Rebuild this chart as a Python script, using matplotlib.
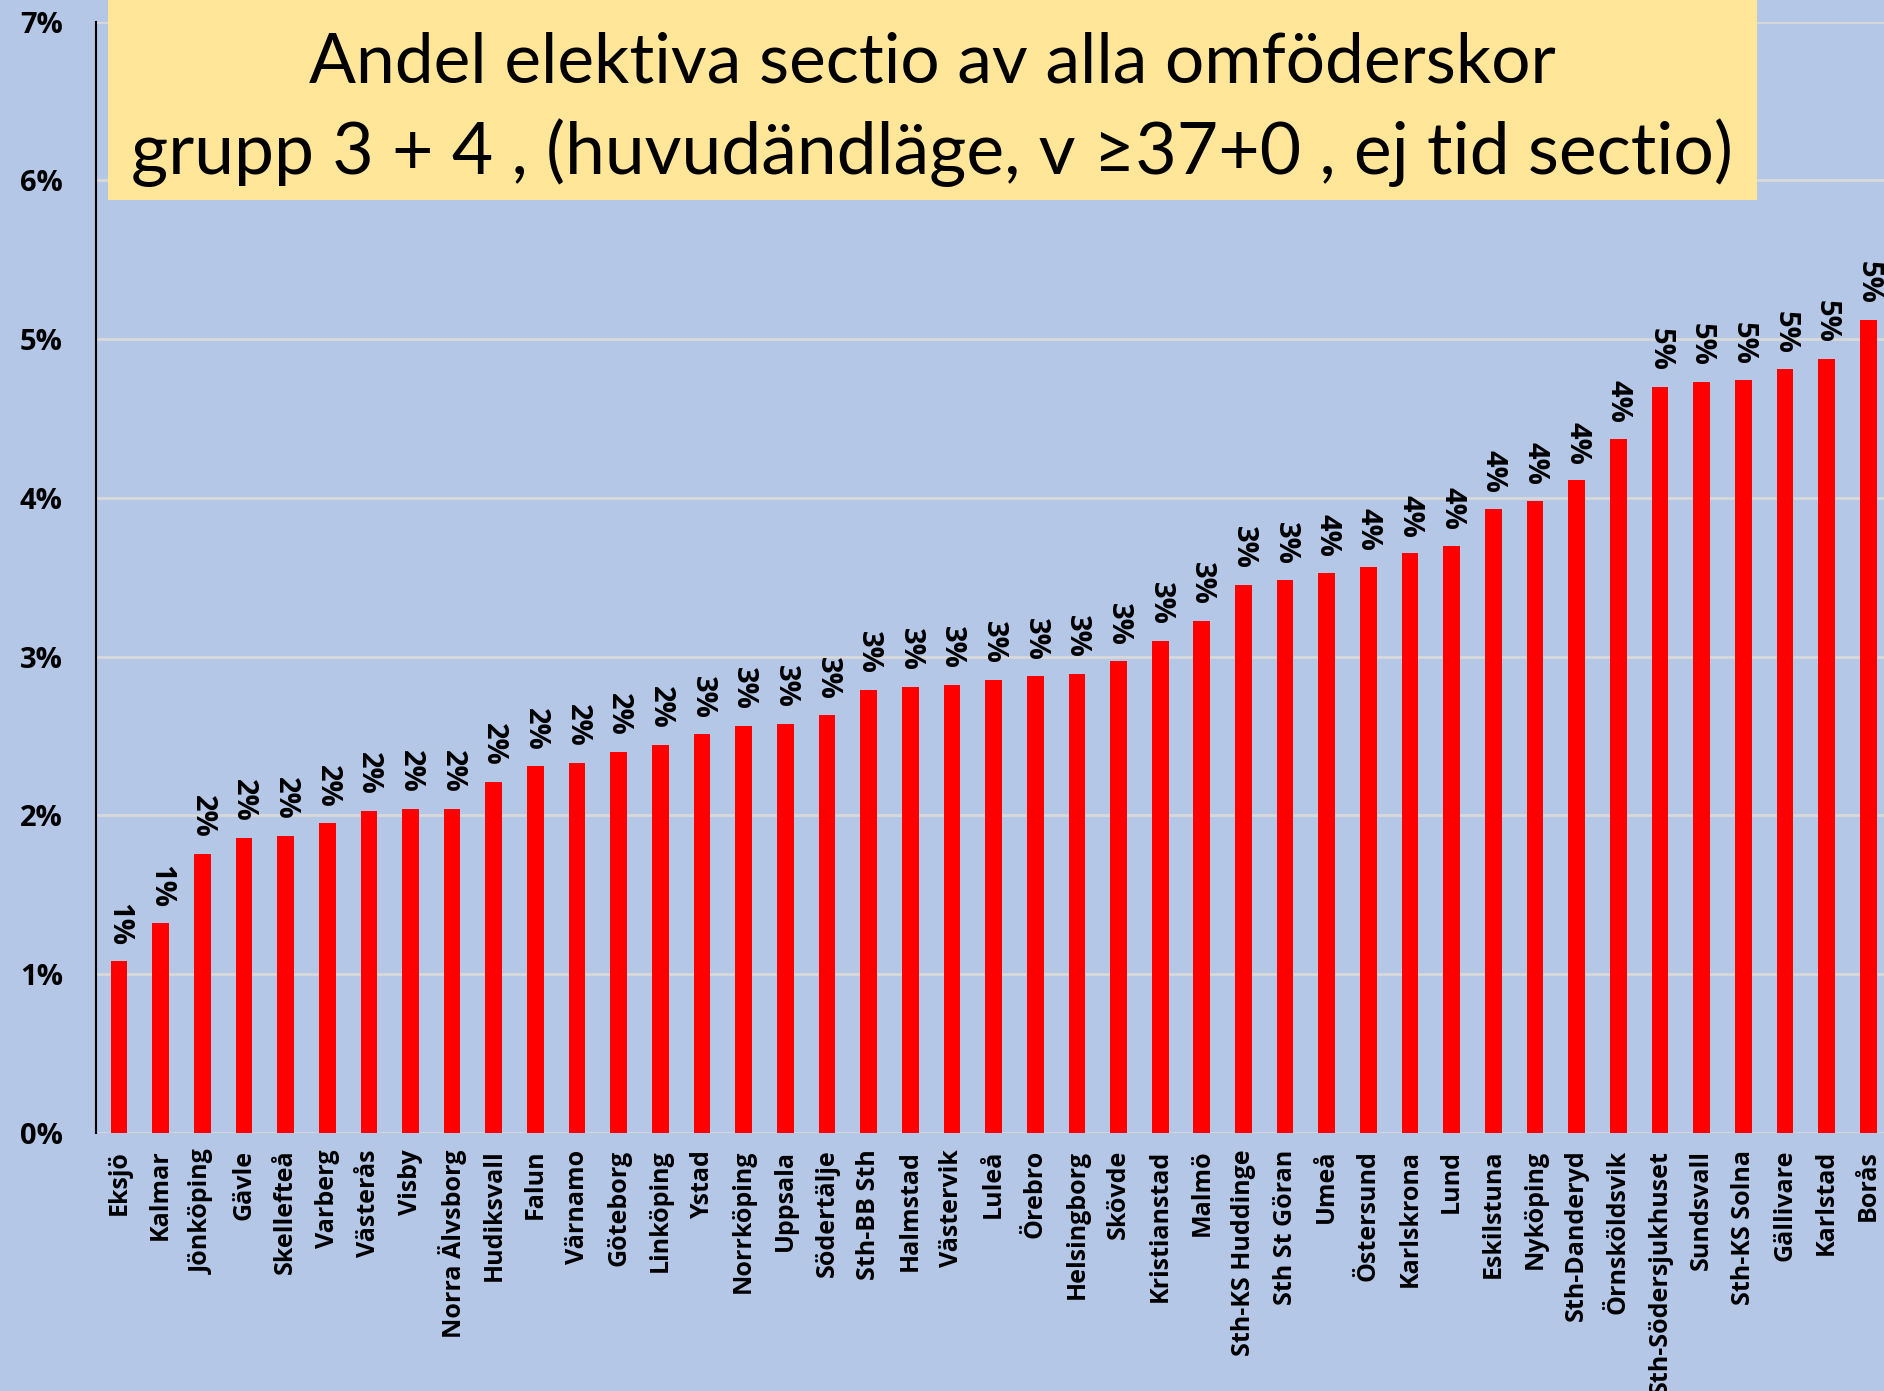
import matplotlib
matplotlib.use("Agg")
import matplotlib.pyplot as plt
from matplotlib.patches import Rectangle
from matplotlib.ticker import PercentFormatter

# sjukhus, sorterade efter andel
hospitals = ["Eksjö", "Kalmar", "Jönköping", "Gävle", "Skellefteå", "Varberg",
             "Västerås", "Visby", "Norra Älvsborg", "Hudiksvall", "Falun",
             "Värnamo", "Göteborg", "Linköping", "Ystad", "Norrköping",
             "Uppsala", "Södertälje", "Sth-BB Sth", "Halmstad", "Västervik",
             "Luleå", "Örebro", "Helsingborg", "Skövde", "Kristianstad",
             "Malmö", "Sth-KS Huddinge", "Sth St Göran", "Umeå", "Östersund",
             "Karlskrona", "Lund", "Eskilstuna", "Nyköping", "Sth-Danderyd",
             "Örnsköldsvik", "Sth-Södersjukhuset", "Sundsvall", "Sth-KS Solna",
             "Gällivare", "Karlstad", "Borås"]

# andel elektiva sectio i procent
share_pct = [1.08, 1.32, 1.76, 1.86, 1.87, 1.95,
             2.03, 2.04, 2.04, 2.21, 2.31,
             2.33, 2.40, 2.445, 2.51, 2.565,
             2.575, 2.63, 2.79, 2.81, 2.82,
             2.855, 2.875, 2.89, 2.97, 3.10,
             3.225, 3.45, 3.48, 3.53, 3.565,
             3.65, 3.70, 3.93, 3.98, 4.11,
             4.37, 4.70, 4.73, 4.74,
             4.81, 4.875, 5.12]

title_lines = ["Andel elektiva sectio av alla omföderskor",
               "grupp 3 + 4 , (huvudändläge, v ≥37+0 , ej tid sectio)"]

bg = "#B4C7E7"
label_font = ["Open Sans", "DejaVu Sans"]
title_font = ["Lato", "DejaVu Sans"]

fig = plt.figure(figsize=(18.84, 13.91), dpi=100, facecolor=bg)
ax = fig.add_axes([0.051, 0.1855, 0.949, 0.799])
ax.set_facecolor(bg)

vals = [v / 100 for v in share_pct]
x = list(range(len(hospitals)))
ax.bar(x, vals, width=0.40, color="#FF0000", zorder=3)

ax.set_ylim(0, 0.07)
ax.set_xlim(-0.55, len(hospitals) - 0.62)
ax.set_yticks([i / 100 for i in range(8)])
ax.yaxis.set_major_formatter(PercentFormatter(1.0, decimals=0))
ax.grid(axis="y", color="#D9D9D9", linewidth=2, zorder=0)

for s in ["top", "right", "bottom"]:
    ax.spines[s].set_visible(False)
ax.spines["left"].set_color("black")
ax.spines["left"].set_linewidth(1.5)
ax.tick_params(length=0)

ax.set_xticks(x)
ax.set_xticklabels(hospitals, rotation=90, fontsize=18, fontweight="bold",
                   family=label_font)
for lab in ax.get_yticklabels():
    lab.set_fontsize(21)
    lab.set_fontweight("bold")
    lab.set_family(label_font)
ax.tick_params(axis="y", pad=24)
ax.tick_params(axis="x", pad=12)

for xi, v in zip(x, vals):
    ax.text(xi, v + 0.0010, "{:.0f}%".format(v * 100), rotation=-90,
            ha="center", va="bottom", fontsize=21, fontweight="bold",
            family=label_font, zorder=4)

# gul rubrikruta
fig.add_artist(Rectangle((0.0573, 0.856), 0.8753, 0.15, transform=fig.transFigure,
                         facecolor="#FFE699", edgecolor="none", zorder=5))
fig.text(0.4947, 0.955, title_lines[0], ha="center", va="center", fontsize=50,
         family=title_font, zorder=6)
fig.text(0.4947, 0.890, title_lines[1], ha="center", va="center", fontsize=51.5,
         family=title_font, zorder=6)

fig.savefig("out.png", dpi=100, facecolor=bg)
